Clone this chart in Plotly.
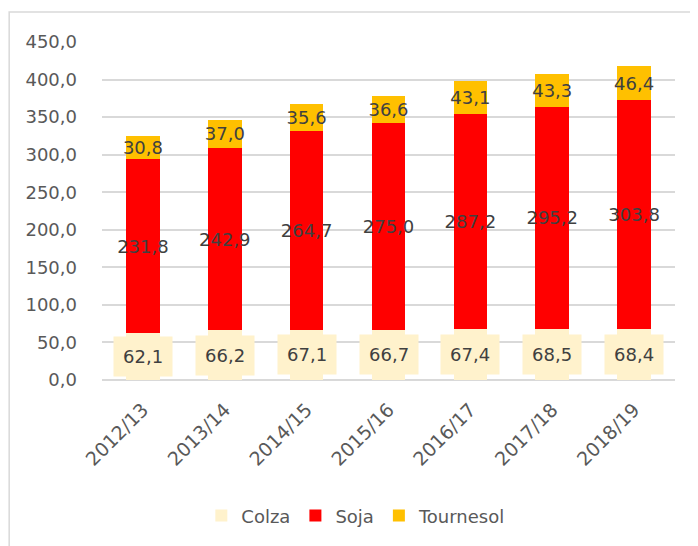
import plotly.graph_objects as go

campagnes = ['2012/13', '2013/14', '2014/15', '2015/16', '2016/17', '2017/18', '2018/19']
colza = [62.1, 66.2, 67.1, 66.7, 67.4, 68.5, 68.4]
soja = [231.8, 242.9, 264.7, 275.0, 287.2, 295.2, 303.8]
tournesol = [30.8, 37.0, 35.6, 36.6, 43.1, 43.3, 46.4]

gris_texte = '#404040'
gris_axe = '#595959'
police = 'DejaVu Sans'

def fr(v):
    return f'{v:.1f}'.replace('.', ',')

fig = go.Figure()

fig.add_trace(go.Bar(
    x=campagnes, y=colza, name='Colza',
    marker=dict(color='#FFF2CC', line=dict(width=0)),
))
fig.add_trace(go.Bar(
    x=campagnes, y=soja, name='Soja',
    marker=dict(color='#FF0000', line=dict(width=0)),
    text=[fr(v) for v in soja], textposition='inside',
    insidetextanchor='middle', textangle=0,
    textfont=dict(color=gris_texte, size=18, family=police),
))
fig.add_trace(go.Bar(
    x=campagnes, y=tournesol, name='Tournesol',
    marker=dict(color='#FFC000', line=dict(width=0)),
    text=[fr(v) for v in tournesol], textposition='inside',
    insidetextanchor='middle', textangle=0,
    textfont=dict(color=gris_texte, size=18, family=police),
))

# étiquettes Colza avec fond crème
for c, v in zip(campagnes, colza):
    fig.add_annotation(
        x=c, y=v / 2, text=fr(v), showarrow=False,
        font=dict(color=gris_texte, size=18, family=police),
        bgcolor='#FFF2CC', borderpad=9,
    )

# cadre extérieur
fig.add_shape(
    type='rect', xref='paper', yref='paper',
    x0=-0.162, x1=1.05, y0=-0.5, y1=1.089,
    line=dict(color='#D9D9D9', width=1.5),
)

fig.update_layout(
    barmode='stack',
    bargap=0.59,
    width=698, height=546,
    margin=dict(l=94, r=31, t=34, b=174),
    plot_bgcolor='white',
    paper_bgcolor='white',
    separators=',.',
    font=dict(family=police, color=gris_axe, size=16),
    uniformtext=dict(minsize=18, mode='show'),
    showlegend=True,
    legend=dict(
        orientation='h', x=0.443, xanchor='center', y=-0.402, yanchor='middle',
        font=dict(size=18, color=gris_axe), itemwidth=30, traceorder='normal',
    ),
)

fig.update_yaxes(
    range=[0, 450], dtick=50, tickformat='.1f', automargin=False,
    showgrid=True, gridcolor='#D9D9D9', gridwidth=1.5,
    zeroline=True, zerolinecolor='#D9D9D9', zerolinewidth=1.5,
    showline=False, ticks='', ticklabelstandoff=24,
    tickfont=dict(size=18, color=gris_axe),
)
fig.update_xaxes(
    tickangle=-45, showline=False, ticks='', automargin=False,
    ticklabelstandoff=14,
    tickfont=dict(size=19, color=gris_axe),
)

fig.write_html('out.html')
